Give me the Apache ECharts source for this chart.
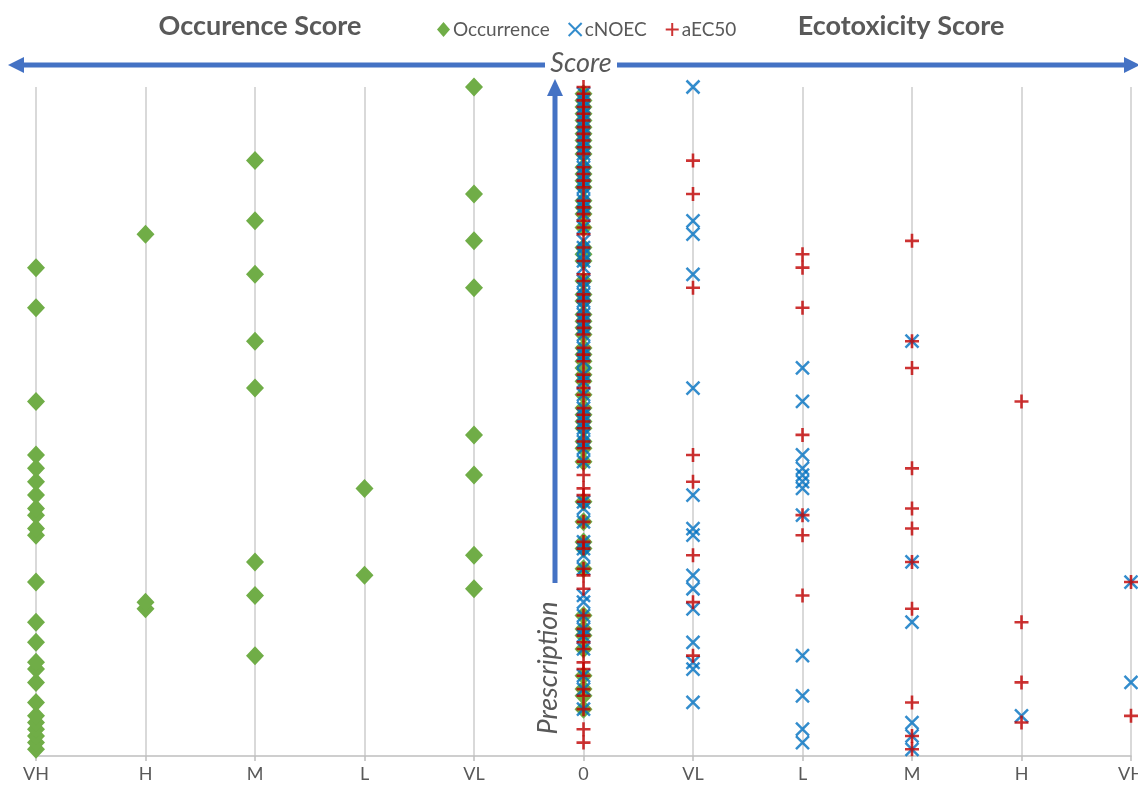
<!DOCTYPE html>
<html>
<head>
<meta charset="utf-8">
<title>Occurrence and ecotoxicity scores by prescription</title>
<script src="https://cdn.jsdelivr.net/npm/echarts@6/dist/echarts.min.js"></script>
<style>
  html, body { margin: 0; padding: 0; background: #ffffff; }
  #chart { width: 1138px; height: 785px; }
</style>
</head>
<body>
<div id="chart"></div>
<script>
// Score scale: occurrence runs to the left (negative), ecotoxicity to the right.
const scoreTicks = [-5, -4, -3, -2, -1, 0, 1, 2, 3, 4, 5];
const scoreLabels = ['VH', 'H', 'M', 'L', 'VL', '0', 'VL', 'L', 'M', 'H', 'VH'];

// One entry per prescription, prescription 1 first (bottom of the chart).
const occurrence = [
  -5, -5, -5, -5, -5, -5, 0, -5, 0, 0,
  -5, 0, -5, -5, -3, 0, -5, 0, 0, -5,
  0, -4, -4, -3, -1, -5, -2, 0, -3, -1,
  0, 0, -5, -5, 0, -5, -5, 0, -5, -2,
  -5, -1, -5, 0, -5, 0, 0, -1, 0, 0,
  0, 0, -5, 0, -3, 0, 0, 0, 0, 0,
  0, -3, 0, 0, 0, 0, -5, 0, 0, -1,
  0, -3, -5, 0, 0, 0, -1, -4, 0, -3,
  0, 0, 0, -1, 0, 0, 0, 0, -3, 0,
  0, 0, 0, 0, 0, 0, 0, 0, 0, -1
];

const cNOEC = [
  3, 2, 3, 2, 3, 4, 0, 1, 2, 0,
  5, 0, 1, 1, 2, 0, 1, 0, 0, 3,
  0, 1, 0, 0, 1, 5, 1, 0, 3, 0,
  0, 0, 1, 1, 0, 2, 0, 0, 1, 2,
  2, 2, 2, 0, 2, 0, 0, 0, 0, 0,
  0, 0, 2, 0, 1, 0, 0, 2, 0, 0,
  0, 3, 0, 0, 0, 0, 0, 0, 0, 0,
  0, 1, 0, 0, 0, 0, 0, 1, 0, 1,
  0, 0, 0, 0, 0, 0, 0, 0, 0, 0,
  0, 0, 0, 0, 0, 0, 0, 0, 0, 1
];

const aEC50 = [
  3, 0, 3, 0, 4, 5, 0, 3, 0, 0,
  4, 0, 0, 0, 1, 0, 0, 0, 0, 4,
  0, 3, 1, 2, 0, 5, 0, 0, 3, 1,
  0, 0, 2, 3, 0, 2, 3, 0, 0, 0,
  1, 0, 3, 0, 1, 0, 0, 2, 0, 0,
  0, 0, 4, 0, 0, 0, 0, 3, 0, 0,
  0, 3, 0, 0, 0, 0, 2, 0, 0, 1,
  0, 0, 2, 0, 2, 0, 3, 0, 0, 0,
  0, 0, 0, 1, 0, 0, 0, 0, 1, 0,
  0, 0, 0, 0, 0, 0, 0, 0, 0, 0
];

// [score, prescription number] pairs for the scatter series
function toPoints(scores) {
  return scores.map((s, i) => [s, i + 1]);
}

const GREEN = '#70AD47';
const BLUE = '#0070C0';
const RED = '#C00000';
const ARROW = '#4472C4';
const TEXT = '#595959';
const FONT = 'Lato, "Open Sans", sans-serif';

const crossPath = 'path://M0,0L10,10M10,0L0,10';
const plusPath = 'path://M5,0L5,10M0,5L10,5';

const chart = echarts.init(document.getElementById('chart'), null, { renderer: 'canvas' });

chart.setOption({
  animation: false,
  backgroundColor: '#ffffff',
  textStyle: { fontFamily: FONT },
  grid: { left: 36, right: 7, top: 87, bottom: 29, containLabel: false, outerBoundsMode: 'none' },
  legend: {
    left: 432,
    top: 15,
    itemGap: 18,
    itemWidth: 13,
    itemHeight: 15,
    textStyle: { fontSize: 19, color: TEXT, fontFamily: FONT, padding: [0, 0, 0, -2] },
    data: ['Occurrence', 'cNOEC', 'aEC50']
  },
  xAxis: {
    type: 'value',
    min: scoreTicks[0],
    max: scoreTicks[scoreTicks.length - 1],
    interval: 1,
    axisLine: { show: true, onZero: false, lineStyle: { color: '#bfbfbf', width: 1.5 } },
    axisTick: { show: true, length: 5, lineStyle: { color: '#bfbfbf', width: 1.5 } },
    axisLabel: {
      margin: 9,
      fontSize: 18,
      color: TEXT,
      fontFamily: FONT,
      formatter: v => scoreLabels[scoreTicks.indexOf(Math.round(v))] || ''
    },
    splitLine: { show: true, lineStyle: { color: '#d9d9d9', width: 2 } }
  },
  yAxis: {
    type: 'value',
    min: 0,
    max: 100,
    show: false,
    splitLine: { show: false }
  },
  series: [
    {
      name: 'Occurrence',
      type: 'scatter',
      symbol: 'diamond',
      symbolSize: [18, 19],
      itemStyle: { color: GREEN, opacity: 1 },
      z: 2,
      data: toPoints(occurrence)
    },
    {
      name: 'cNOEC',
      type: 'scatter',
      symbol: crossPath,
      symbolSize: 13,
      itemStyle: { color: 'rgba(0,0,0,0)', borderColor: BLUE, borderWidth: 2.5 },
      z: 3,
      data: toPoints(cNOEC)
    },
    {
      name: 'aEC50',
      type: 'scatter',
      symbol: plusPath,
      symbolSize: 14,
      itemStyle: { color: 'rgba(0,0,0,0)', borderColor: RED, borderWidth: 2.6 },
      z: 4,
      data: toPoints(aEC50)
    }
  ],
  graphic: [
    // headings over each half
    {
      type: 'text', x: 260, y: 26, z: 10,
      style: {
        text: 'Occurence Score', font: 'bold 27px ' + FONT, fill: TEXT,
        align: 'center', verticalAlign: 'middle'
      }
    },
    {
      type: 'text', x: 901, y: 26, z: 10,
      style: {
        text: 'Ecotoxicity Score', font: 'bold 27px ' + FONT, fill: TEXT,
        align: 'center', verticalAlign: 'middle'
      }
    },
    // horizontal score arrow, split around its label
    {
      type: 'line', z: 10,
      shape: { x1: 20, y1: 65, x2: 545, y2: 65 },
      style: { stroke: ARROW, lineWidth: 5 }
    },
    {
      type: 'line', z: 10,
      shape: { x1: 617, y1: 65, x2: 1126, y2: 65 },
      style: { stroke: ARROW, lineWidth: 5 }
    },
    {
      type: 'polygon', z: 10,
      shape: { points: [[8, 65], [24, 57], [24, 73]] },
      style: { fill: ARROW }
    },
    {
      type: 'polygon', z: 10,
      shape: { points: [[1140, 65], [1124, 57], [1124, 73]] },
      style: { fill: ARROW }
    },
    {
      type: 'text', z: 10,
      x: 581, y: 63,
      style: {
        text: 'Score', font: 'italic 27px ' + FONT, fill: TEXT,
        align: 'center', verticalAlign: 'middle'
      }
    },
    // vertical prescription arrow
    {
      type: 'line', z: 10,
      shape: { x1: 555, y1: 583, x2: 555, y2: 92 },
      style: { stroke: ARROW, lineWidth: 5 }
    },
    {
      type: 'polygon', z: 10,
      shape: { points: [[555, 79], [547, 96], [563, 96]] },
      style: { fill: ARROW }
    },
    {
      type: 'text', z: 10,
      x: 548, y: 668,
      rotation: Math.PI / 2,
      style: {
        text: 'Prescription', font: 'italic 27px ' + FONT, fill: TEXT,
        align: 'center', verticalAlign: 'middle'
      }
    }
  ]
});
</script>
</body>
</html>
